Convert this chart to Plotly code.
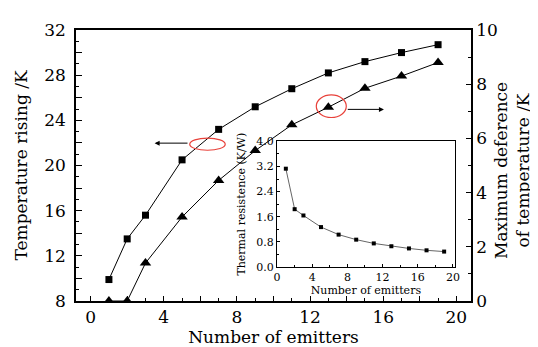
import plotly.graph_objects as go

# ---------------- data ----------------
emitters = [1, 2, 3, 5, 7, 9, 11, 13, 15, 17, 19]
temp_rising = [9.9, 13.5, 15.6, 20.5, 23.2, 25.2, 26.8, 28.2, 29.2, 30.0, 30.7]
max_deference = [0.0, 0.0, 1.4, 3.1, 4.45, 5.55, 6.5, 7.15, 7.85, 8.3, 8.8]
thermal_res = [3.13, 1.84, 1.64, 1.27, 1.03, 0.87, 0.75, 0.66, 0.59, 0.53, 0.49]

x_tickvals = [0, 2, 4, 6, 8, 10, 12, 14, 16, 18, 20]
x_ticktext = ["0", "", "4", "", "8", "", "12", "", "16", "", "20"]
yl_tickvals = [8, 10, 12, 14, 16, 18, 20, 22, 24, 26, 28, 30, 32]
yl_ticktext = ["8", "", "12", "", "16", "", "20", "", "24", "", "28", "", "32"]
yr_tickvals = [0, 2, 4, 6, 8, 10]
in_x_tickvals = [0, 4, 8, 12, 16, 20]
in_y_tickvals = [0, 0.8, 1.6, 2.4, 3.2, 4.0]
in_y_ticktext = ["0.0", "0.8", "1.6", "2.4", "3.2", "4.0"]

FONT = "'DejaVu Serif', 'Liberation Serif', serif"

fig = go.Figure()

fig.add_trace(go.Scatter(
    x=emitters, y=temp_rising, mode="lines+markers",
    line=dict(color="black", width=1),
    marker=dict(symbol="square", size=7, color="black"),
    xaxis="x", yaxis="y", showlegend=False))

fig.add_trace(go.Scatter(
    x=emitters, y=max_deference, mode="lines+markers",
    line=dict(color="black", width=1),
    marker=dict(symbol="triangle-up", size=10, color="black"),
    xaxis="x", yaxis="y2", showlegend=False))

fig.add_trace(go.Scatter(
    x=emitters, y=thermal_res, mode="lines+markers",
    line=dict(color="#666666", width=1),
    marker=dict(symbol="square", size=4, color="black"),
    xaxis="x3", yaxis="y3", showlegend=False, cliponaxis=False))

axis_common = dict(showgrid=False, zeroline=False, linecolor="black",
                   ticks="inside", tickcolor="black", showline=True)

fig.update_layout(
    width=538, height=347,
    margin=dict(l=68, r=75, t=14, b=44),
    paper_bgcolor="white", plot_bgcolor="white",
    font=dict(family=FONT, size=17, color="black"),
    xaxis=dict(**axis_common, range=[-0.8, 20.8], linewidth=1.5, mirror=True,
               tickmode="array", tickvals=x_tickvals, ticktext=x_ticktext,
               ticklen=5, tickwidth=1,
               minor=dict(dtick=1, ticks="inside", ticklen=3, tickcolor="black"),
               title=dict(text="Number of emitters", font=dict(family=FONT, size=17), standoff=4),
               tickfont=dict(family=FONT, size=17),
               domain=[0, 1]),
    yaxis=dict(**axis_common, range=[8, 32], linewidth=1.5,
               tickmode="array", tickvals=yl_tickvals, ticktext=yl_ticktext,
               ticklen=6, tickwidth=1, ticklabelstandoff=5,
               minor=dict(dtick=1, ticks="inside", ticklen=3, tickcolor="black"),
               tickfont=dict(family=FONT, size=17),
               title=dict(text="Temperature rising /K", font=dict(family=FONT, size=17), standoff=12)),
    yaxis2=dict(**axis_common, range=[0, 10], linewidth=1.5, overlaying="y", side="right",
                tickmode="array", tickvals=yr_tickvals,
                ticklen=5, tickwidth=1,
                tickfont=dict(family=FONT, size=17),
                minor=dict(dtick=1, ticks="inside", ticklen=3, tickcolor="black")),
    xaxis3=dict(**axis_common, domain=[0.509, 0.9587], anchor="y3", range=[0, 20.2],
                linewidth=1, mirror=True,
                tickmode="array", tickvals=in_x_tickvals, ticklen=3, tickwidth=1,
                minor=dict(dtick=2, ticks="inside", ticklen=2, tickcolor="black"),
                tickfont=dict(family=FONT, size=11),
                title=dict(text="Number of emitters", font=dict(family=FONT, size=11), standoff=0)),
    yaxis3=dict(**axis_common, domain=[0.1256, 0.589], anchor="x3", range=[0, 4.0],
                linewidth=1, mirror=True,
                tickmode="array", tickvals=in_y_tickvals, ticktext=in_y_ticktext,
                ticklen=3, tickwidth=1,
                minor=dict(dtick=0.4, ticks="inside", ticklen=2, tickcolor="black"),
                tickfont=dict(family=FONT, size=11),
                title=dict(text="Thermal resistence (K/W)", font=dict(family=FONT, size=11), standoff=8)),
)

# right axis title (two lines)
fig.add_annotation(text="Maximum deference<br>of temperature /K", textangle=-90,
                   xref="paper", yref="paper", x=1.104, y=0.48, xanchor="center", yanchor="middle",
                   showarrow=False, font=dict(family=FONT, size=17))

# red ellipses marking which curve belongs to which axis
ELLIPSE_L = dict(x0=5.42, x1=7.36, y0=21.35, y1=22.43)
ELLIPSE_R = dict(x0=12.34, x1=13.98, y0=24.25, y1=26.25)
fig.add_shape(type="circle", xref="x", yref="y", line=dict(color="#e8413a", width=1.2), **ELLIPSE_L)
fig.add_shape(type="circle", xref="x", yref="y", line=dict(color="#e8413a", width=1.2), **ELLIPSE_R)

fig.add_annotation(x=3.5, y=21.98, ax=5.38, ay=21.98, xref="x", yref="y", axref="x", ayref="y",
                   text="", showarrow=True, arrowhead=2, arrowsize=1, arrowwidth=1, arrowcolor="black")
fig.add_annotation(x=16.04, y=24.97, ax=13.98, ay=24.97, xref="x", yref="y", axref="x", ayref="y",
                   text="", showarrow=True, arrowhead=2, arrowsize=1, arrowwidth=1, arrowcolor="black")

fig.write_html("out.html")
